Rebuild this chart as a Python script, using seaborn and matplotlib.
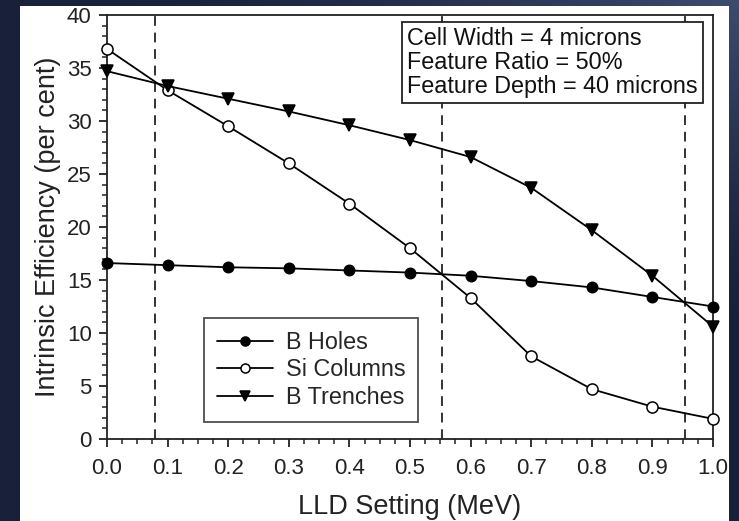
import matplotlib
matplotlib.use("Agg")
import matplotlib.pyplot as plt
from matplotlib.patches import Rectangle
from matplotlib.ticker import MultipleLocator, FormatStrFormatter
import numpy as np
import pandas as pd
import seaborn as sns

# LLD threshold settings (MeV)
lld = [0.0, 0.1, 0.2, 0.3, 0.4, 0.5, 0.6, 0.7, 0.8, 0.9, 1.0]

# Intrinsic efficiency (per cent) for each geometry
b_holes = [16.6, 16.4, 16.2, 16.1, 15.9, 15.7, 15.4, 14.9, 14.3, 13.4, 12.5]
si_columns = [36.8, 32.9, 29.5, 26.0, 22.2, 18.0, 13.3, 7.8, 4.7, 3.05, 1.9]
b_trenches = [34.7, 33.3, 32.1, 30.9, 29.6, 28.2, 26.6, 23.7, 19.7, 15.4, 10.6]

series_names = ["B Holes", "Si Columns", "B Trenches"]

# Crossover LLD settings marked with dashed lines
crossovers = [0.080, 0.553, 0.954]

info_lines = ["Cell Width = 4 microns", "Feature Ratio = 50%", "Feature Depth = 40 microns"]

sns.set_style("ticks")
plt.rcParams["font.family"] = ["Liberation Sans", "DejaVu Sans"]

W, H = 739, 521
fig = plt.figure(figsize=(W / 100, H / 100), dpi=100, facecolor="#18203a")

# dark slide backdrop, a little lighter towards the top right corner
bg = fig.add_axes([0, 0, 1, 1], zorder=-20)
gx, gy = np.meshgrid(np.linspace(0, 1, 200), np.linspace(0, 1, 140))
dist = np.sqrt((1 - gx) ** 2 + (gy * 1.4) ** 2)
glow = np.clip(1 - dist / 0.9, 0, 1) ** 1.5
dark = np.array([0x18, 0x20, 0x3a]) / 255
light = np.array([0x3c, 0x4c, 0x6e]) / 255
img = dark[None, None, :] + glow[:, :, None] * (light - dark)[None, None, :]
bg.imshow(img, extent=[0, 1, 0, 1], origin="upper", aspect="auto")
bg.set_axis_off()

# white page behind the plot
fig.patches.append(Rectangle((20 / W, 0), (729 - 20) / W, (521 - 6) / H,
                             transform=fig.transFigure, facecolor="white",
                             edgecolor="none", zorder=-10))

ax = fig.add_axes([107 / W, 1 - 439 / H, (713 - 107) / W, (439 - 15) / H])
ax.set_zorder(1)
ax.set_facecolor("white")

df = pd.DataFrame({
    "LLD": lld * 3,
    "eff": b_holes + si_columns + b_trenches,
    "series": sum([[n] * len(lld) for n in series_names], []),
})

styles = {
    "B Holes": dict(marker="o", markerfacecolor="black", markersize=7.5),
    "Si Columns": dict(marker="o", markerfacecolor="white", markersize=8.0),
    "B Trenches": dict(marker="v", markerfacecolor="black", markersize=8.5),
}

handles = []
for name in series_names:
    sub = df[df["series"] == name]
    sns.lineplot(data=sub, x="LLD", y="eff", ax=ax, color="black", lw=1.3,
                 markeredgecolor="black", markeredgewidth=1.1, clip_on=False,
                 zorder=3, legend=False, **styles[name])
    handles.append(ax.lines[-1])

for xc in crossovers:
    ax.axvline(xc, color="#333333", lw=1.4, ls=(0, (5, 3.5)), zorder=1)

ax.set_xlim(0, 1.0)
ax.set_ylim(0, 40)
ax.xaxis.set_major_locator(MultipleLocator(0.1))
ax.xaxis.set_minor_locator(MultipleLocator(0.025))
ax.xaxis.set_major_formatter(FormatStrFormatter("%.1f"))
ax.yaxis.set_major_locator(MultipleLocator(5))
ax.yaxis.set_minor_locator(MultipleLocator(1))

for s in ax.spines.values():
    s.set_linewidth(1.3)
    s.set_color("#222222")
    s.set_visible(True)

ax.tick_params(which="major", direction="out", length=6, width=1.3,
               labelsize=16, colors="#222222", pad=5)
ax.tick_params(which="minor", direction="out", length=3.5, width=1.1,
               colors="#222222")
ax.tick_params(axis="x", which="major", pad=8)

ax.set_xlabel("LLD Setting (MeV)", fontsize=19.5, color="#222222", labelpad=10.5)
ax.set_ylabel("Intrinsic Efficiency (per cent)", fontsize=19.5, color="#222222", labelpad=4)

leg = ax.legend(handles, series_names, loc="lower left",
                bbox_to_anchor=((204 - 107) / 606, (439 - 422) / 424),
                fontsize=16.8, frameon=True, fancybox=False, handlelength=2.4,
                handletextpad=0.55, borderpad=0.55, labelspacing=0.2,
                borderaxespad=0)
leg.get_frame().set_edgecolor("#222222")
leg.get_frame().set_linewidth(1.3)
for h in leg.legend_handles:
    h.set_markersize(6.5)

ax.text((698 - 107) / 606, (439 - 27) / 424, "\n".join(info_lines),
        transform=ax.transAxes, ha="right", va="top", multialignment="left",
        fontsize=16.8, color="#111111", linespacing=1.05,
        bbox=dict(boxstyle="square,pad=0.22", facecolor="white",
                  edgecolor="#222222", linewidth=1.3), zorder=5)

fig.savefig("out.png", dpi=100, facecolor=fig.get_facecolor())
